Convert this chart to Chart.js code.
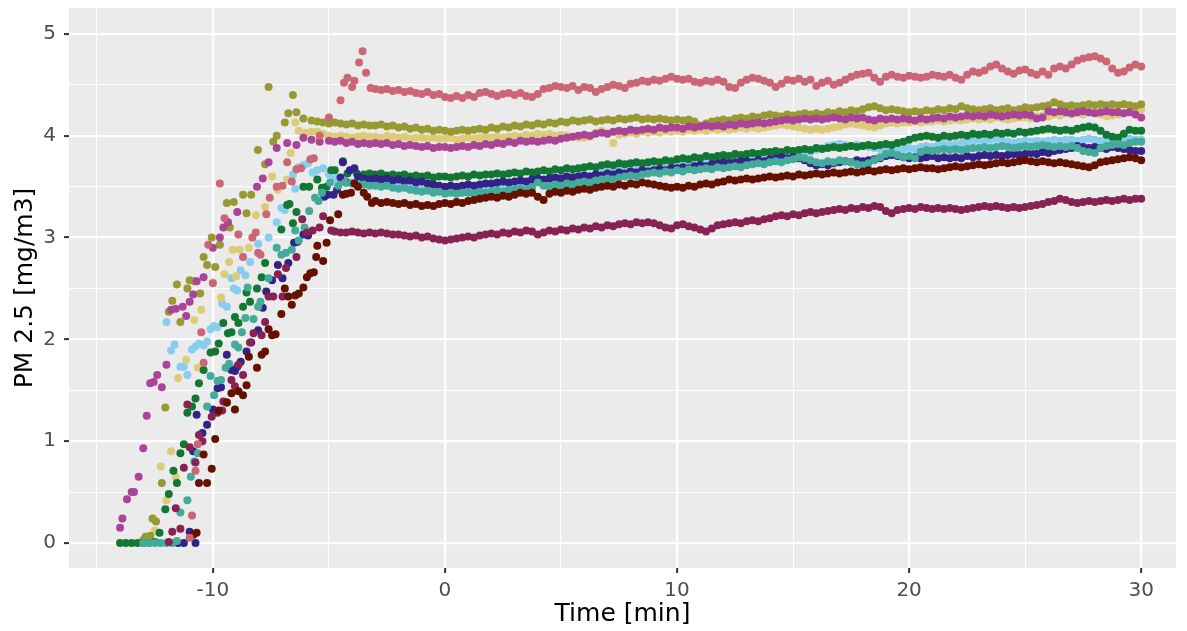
<!DOCTYPE html>
<html>
<head>
<meta charset="utf-8">
<title>PM 2.5</title>
<script src="https://cdn.jsdelivr.net/npm/chart.js@4.4.0/dist/chart.umd.min.js"></script>
<style>
  html, body { margin: 0; padding: 0; background: #fff; }
  #wrap { width: 1187px; height: 631px; }
</style>
</head>
<body>
<div id="wrap"><canvas id="pmChart" width="1187" height="631"></canvas></div>
<script>
// axis breaks
const xTicks = [-15, -10, -5, 0, 5, 10, 15, 20, 25, 30];
const xLabels = [-10, 0, 10, 20, 30];
const yTicks = [0, 0.5, 1, 1.5, 2, 2.5, 3, 3.5, 4, 4.5, 5];
const yLabels = [0, 1, 2, 3, 4, 5];

// steady part of each run is logged every 15 s from t = -3 min
const levelStart = -3;
const levelStep = 0.25;

// start-up readings [time, value] for each run
const roseRamp = [[-11.0,0.05],[-10.9,0.27],[-10.75,0.71],[-10.65,0.97],[-10.5,2.07],[-10.4,1.77],[-10.2,2.93],[-10.0,2.55],[-9.7,3.53],[-9.5,3.19],[-8.9,3.03],[-8.7,2.81],[-8.3,3.0],[-8.15,3.05],[-8.05,2.85],[-7.95,2.83],[-7.7,3.23],[-7.55,3.39],[-7.25,3.5],[-7.0,3.51],[-6.8,3.74],[-6.6,3.55],[-6.4,3.67],[-6.2,3.68],[-5.8,3.77],[-5.65,3.78],[-5.4,4.0],[-5.0,4.18],[-4.5,4.35],[-4.35,4.52],[-4.2,4.57],[-4.0,4.48],[-3.9,4.54],[-3.7,4.72],[-3.55,4.83],[-3.4,4.62],[-3.2,4.47]];
const oliveRamp = [[-13.0,0.03],[-12.9,0.06],[-12.7,0.07],[-12.6,0.24],[-12.45,0.21],[-12.2,0.59],[-12.05,1.33],[-11.9,2.27],[-11.75,2.38],[-11.55,2.54],[-11.4,2.17],[-11.1,2.5],[-11.0,2.58],[-10.8,2.57],[-10.55,2.45],[-10.4,2.81],[-10.25,2.73],[-10.05,3.0],[-9.9,2.71],[-9.7,2.93],[-9.4,3.34],[-9.27,3.1],[-9.1,3.35],[-8.7,3.42],[-8.55,3.24],[-8.35,3.42],[-8.06,3.86],[-7.75,3.72],[-7.6,4.48],[-7.4,3.94],[-7.25,4.0],[-6.9,4.13],[-6.75,4.22],[-6.55,4.4],[-6.4,4.23],[-6.1,4.17],[-5.75,4.15],[-5.5,4.14],[-5.25,4.13],[-5.0,4.12],[-4.75,4.13],[-4.5,4.12],[-4.25,4.11],[-4.0,4.12],[-3.75,4.1],[-3.5,4.11],[-3.25,4.1]];
const sandRamp = [[-12.5,0.12],[-12.25,0.75],[-12.0,0.42],[-11.8,0.9],[-11.6,0.65],[-11.5,1.62],[-11.15,1.8],[-10.8,2.19],[-10.65,1.72],[-10.5,2.29],[-10.0,2.56],[-9.65,2.41],[-9.5,2.64],[-9.3,2.76],[-9.15,2.88],[-9.0,2.62],[-8.85,2.88],[-8.45,2.9],[-8.15,3.22],[-7.75,3.3],[-7.45,3.6],[-7.2,3.47],[-6.8,3.57],[-6.65,3.83],[-6.45,4.13],[-6.3,4.05],[-6.0,4.03],[-5.75,4.04],[-5.5,4.04],[-5.25,4.02],[-5.0,4.0],[-4.75,3.99],[-4.5,4.0],[-4.25,3.99],[-4.0,3.98],[-3.75,3.99],[-3.5,4.0],[-3.25,3.99]];
const magentaRamp = [[-14.0,0.15],[-13.9,0.24],[-13.7,0.43],[-13.5,0.5],[-13.4,0.5],[-13.2,0.65],[-13.0,0.93],[-12.85,1.25],[-12.7,1.57],[-12.55,1.58],[-12.4,1.65],[-12.2,1.53],[-12.0,1.75],[-11.8,2.29],[-11.6,2.3],[-11.3,2.32],[-11.15,2.23],[-11.0,2.37],[-10.85,2.44],[-10.7,2.57],[-10.4,2.61],[-10.0,2.9],[-9.7,3.0],[-9.55,3.1],[-9.35,3.15],[-8.95,3.25],[-8.1,3.5],[-7.85,3.58],[-7.6,3.74],[-7.25,3.88],[-6.8,3.93],[-6.4,3.91],[-6.1,3.98],[-5.75,3.96],[-5.4,3.94],[-5.0,3.95],[-4.75,3.94],[-4.5,3.95],[-4.25,3.93],[-4.0,3.94],[-3.75,3.92],[-3.5,3.93],[-3.25,3.92]];
const greenRamp = [[-14.0,0],[-13.75,0],[-13.5,0],[-13.25,0],[-13.0,0],[-12.75,0],[-12.5,0.01],[-12.3,0.1],[-12.05,0.33],[-11.9,0.48],[-11.7,0.71],[-11.55,0.59],[-11.4,0.88],[-11.25,0.97],[-11.1,1.28],[-10.9,1.34],[-10.75,1.42],[-10.6,1.57],[-10.4,1.7],[-10.1,1.87],[-9.9,1.88],[-9.75,1.96],[-9.55,2.16],[-9.35,2.06],[-9.2,2.07],[-9.05,2.22],[-8.9,2.16],[-8.7,2.32],[-8.55,2.46],[-8.4,2.37],[-8.1,2.5],[-7.9,2.61],[-7.75,2.75],[-7.05,3.08],[-6.8,3.32],[-6.7,3.33],[-6.55,3.14],[-6.4,3.25],[-6.1,3.5],[-5.85,3.5],[-5.5,3.57],[-5.3,3.49],[-5.1,3.5],[-4.9,3.66],[-4.75,3.66],[-4.4,3.75],[-4.2,3.63],[-3.8,3.63],[-3.5,3.62],[-3.25,3.63]];
const indigoRamp = [[-11.5,0],[-11.25,0],[-11.0,0.11],[-10.85,0.9],[-10.75,0.0],[-10.7,1.26],[-10.45,1.08],[-10.25,1.16],[-10.0,1.31],[-9.8,1.52],[-9.65,1.53],[-9.4,1.85],[-9.2,1.7],[-9.05,1.69],[-8.95,1.73],[-8.8,1.78],[-8.55,1.88],[-8.35,1.97],[-8.05,2.09],[-7.85,2.31],[-7.7,2.47],[-7.45,2.58],[-7.2,2.73],[-7.0,2.6],[-6.75,2.75],[-6.5,2.95],[-6.35,2.96],[-6.1,3.03],[-5.9,3.02],[-5.2,3.4],[-5.05,3.42],[-4.8,3.42],[-4.65,3.47],[-4.5,3.59],[-4.4,3.74],[-4.25,3.54],[-4.1,3.66],[-3.9,3.68],[-3.75,3.6],[-3.5,3.58],[-3.25,3.57]];
const tealRamp = [[-13.0,0],[-12.75,0],[-12.5,0],[-12.25,0],[-12.0,0],[-11.75,0],[-11.55,0.02],[-11.4,0.3],[-11.1,0.42],[-10.95,0.65],[-10.8,0.8],[-10.65,0.88],[-10.25,1.34],[-10.1,1.64],[-9.95,1.45],[-9.8,1.59],[-9.65,1.6],[-9.45,1.72],[-9.3,1.76],[-9.05,1.95],[-8.9,1.92],[-8.75,2.07],[-8.6,2.21],[-8.5,2.51],[-8.25,2.2],[-8.05,2.32],[-7.95,2.37],[-7.6,2.6],[-7.25,2.9],[-7.05,2.83],[-6.85,2.85],[-6.6,2.88],[-6.45,3.07],[-6.3,2.97],[-6.05,3.1],[-5.85,3.26],[-5.6,3.39],[-5.45,3.36],[-5.3,3.44],[-4.95,3.54],[-4.6,3.51],[-4.3,3.54],[-4.0,3.53],[-3.75,3.52],[-3.5,3.52],[-3.25,3.51]];
const cyanRamp = [[-12.0,2.17],[-11.8,1.89],[-11.65,1.95],[-11.4,1.73],[-11.25,1.73],[-11.1,1.65],[-10.9,1.9],[-10.75,1.93],[-10.6,1.96],[-10.4,1.94],[-10.25,1.98],[-10.1,2.1],[-9.95,2.13],[-9.8,2.12],[-9.6,2.35],[-9.4,2.32],[-9.2,2.6],[-9.1,2.5],[-8.95,2.48],[-8.8,2.68],[-8.6,2.63],[-8.4,2.76],[-8.05,2.94],[-7.6,3.0],[-7.25,3.15],[-7.05,3.29],[-6.9,3.27],[-6.55,3.62],[-6.45,3.48],[-6.3,3.69],[-6.1,3.71],[-5.9,3.73],[-5.7,3.64],[-5.5,3.66],[-5.25,3.68],[-5.0,3.62],[-4.75,3.58],[-4.5,3.56],[-4.25,3.55],[-4.0,3.54],[-3.75,3.53],[-3.5,3.54],[-3.25,3.52]];
const wineRamp = [[-11.9,0.01],[-11.75,0.11],[-11.6,0.34],[-11.4,0.14],[-11.25,0.74],[-11.1,1.36],[-11.0,0.94],[-10.75,0.79],[-10.6,1.06],[-10.45,1.0],[-10.05,1.24],[-9.8,1.28],[-9.6,1.3],[-9.55,1.39],[-9.4,1.38],[-9.2,1.6],[-9.05,1.54],[-8.9,1.75],[-8.7,1.65],[-8.4,1.97],[-8.25,2.06],[-7.9,2.04],[-7.75,2.17],[-7.6,2.42],[-7.4,2.42],[-7.2,2.64],[-7.0,2.42],[-6.85,2.7],[-6.4,2.81],[-6.15,3.18],[-5.95,3.05],[-5.7,3.07],[-5.4,3.1],[-5.25,3.21],[-4.9,3.07],[-4.75,3.06],[-4.5,3.05],[-4.25,3.05],[-4.0,3.06],[-3.75,3.05],[-3.5,3.04],[-3.25,3.05]];
const darkredRamp = [[-10.85,0.08],[-10.7,0.1],[-10.6,0.59],[-10.4,0.87],[-10.25,0.59],[-10.05,0.73],[-9.9,1.02],[-9.75,1.3],[-9.4,1.38],[-9.2,1.47],[-9.05,1.31],[-8.9,1.49],[-8.7,1.45],[-8.55,1.55],[-8.45,1.83],[-8.1,1.72],[-7.9,1.85],[-7.75,1.88],[-7.6,2.1],[-7.45,2.04],[-7.3,2.05],[-7.05,2.25],[-6.9,2.5],[-6.75,2.42],[-6.6,2.34],[-6.45,2.43],[-6.3,2.45],[-6.1,2.51],[-5.95,2.61],[-5.8,2.65],[-5.65,2.66],[-5.55,2.81],[-5.5,2.92],[-5.25,2.77],[-5.1,2.95],[-4.95,3.17],[-4.6,3.23],[-4.4,3.42],[-4.25,3.43],[-4.05,3.44],[-3.9,3.53],[-3.75,3.5],[-3.5,3.44],[-3.35,3.4],[-3.15,3.34]];

// steady readings, -3 .. 30 min
const roseLevel = [
  4.46,4.45,4.46,4.44, 4.45,4.43,4.44,4.42,
  4.41,4.43,4.40,4.41, 4.38,4.37,4.39,4.37,
  4.40,4.38,4.42,4.43, 4.41,4.39,4.41,4.42,
  4.40,4.42,4.39,4.38, 4.41,4.46,4.47,4.49,
  4.48,4.47,4.49,4.45, 4.48,4.47,4.43,4.46,
  4.48,4.50,4.49,4.47, 4.51,4.52,4.54,4.53,
  4.55,4.54,4.56,4.58, 4.56,4.55,4.56,4.53,
  4.52,4.54,4.53,4.55, 4.53,4.48,4.47,4.52,
  4.55,4.57,4.56,4.54, 4.52,4.48,4.51,4.55,
  4.54,4.56,4.53,4.55, 4.49,4.52,4.54,4.50,
  4.52,4.55,4.58,4.60, 4.61,4.62,4.57,4.53,
  4.58,4.60,4.58,4.57, 4.59,4.58,4.57,4.58,
  4.60,4.59,4.58,4.60, 4.57,4.55,4.60,4.63,
  4.62,4.64,4.68,4.70, 4.66,4.63,4.61,4.64,
  4.65,4.62,4.60,4.63, 4.60,4.66,4.68,4.66,
  4.70,4.74,4.76,4.77, 4.78,4.76,4.73,4.66,
  4.62,4.63,4.67,4.70, 4.68
];
const oliveLevel = [
  4.10,4.11,4.09,4.10, 4.08,4.09,4.07,4.08,
  4.06,4.07,4.05,4.06, 4.05,4.04,4.05,4.06,
  4.05,4.06,4.07,4.06, 4.08,4.07,4.09,4.08,
  4.10,4.09,4.11,4.10, 4.12,4.11,4.13,4.12,
  4.14,4.13,4.15,4.14, 4.15,4.16,4.14,4.15,
  4.16,4.15,4.17,4.16, 4.17,4.18,4.16,4.17,
  4.16,4.17,4.16,4.15, 4.16,4.15,4.16,4.14,
  4.10,4.12,4.14,4.15, 4.16,4.15,4.17,4.18,
  4.17,4.19,4.18,4.20, 4.21,4.20,4.19,4.21,
  4.20,4.21,4.22,4.21, 4.22,4.21,4.23,4.22,
  4.24,4.23,4.25,4.24, 4.26,4.28,4.29,4.27,
  4.25,4.26,4.25,4.24, 4.23,4.24,4.23,4.25,
  4.24,4.26,4.25,4.27, 4.26,4.29,4.27,4.26,
  4.25,4.26,4.27,4.25, 4.26,4.27,4.25,4.26,
  4.28,4.27,4.28,4.29, 4.30,4.33,4.31,4.29,
  4.30,4.29,4.30,4.31, 4.30,4.31,4.30,4.31,
  4.30,4.31,4.30,4.29, 4.31
];
const sandLevel = [
  3.99,3.98,4.00,3.99, 3.98,3.99,3.97,3.98,
  3.98,3.97,3.98,3.97, 3.97,3.98,3.96,3.97,
  3.98,3.97,3.98,3.99, 3.98,3.99,3.98,3.99,
  4.00,3.99,4.01,4.00, 4.02,4.01,4.02,4.00,
  4.01,4.00,3.99,3.98, 3.98,3.99,4.03,4.05,
  4.02,3.93,4.01,4.02, 4.03,4.02,4.04,4.03,
  4.04,4.03,4.05,4.04, 4.05,4.04,4.06,4.05,
  4.06,4.05,4.07,4.06, 4.07,4.06,4.07,4.08,
  4.07,4.08,4.07,4.08, 4.09,4.10,4.11,4.10,
  4.09,4.08,4.07,4.06, 4.07,4.06,4.07,4.08,
  4.09,4.11,4.12,4.11, 4.10,4.09,4.08,4.10,
  4.12,4.13,4.12,4.13, 4.13,4.14,4.13,4.14,
  4.14,4.15,4.14,4.15, 4.16,4.15,4.16,4.17,
  4.16,4.17,4.16,4.18, 4.17,4.16,4.17,4.18,
  4.18,4.17,4.19,4.20, 4.19,4.21,4.20,4.22,
  4.21,4.22,4.21,4.23, 4.22,4.21,4.19,4.20,
  4.21,4.22,4.24,4.25, 4.26
];
const magentaLevel = [
  3.93,3.92,3.93,3.91, 3.92,3.90,3.91,3.90,
  3.89,3.90,3.88,3.89, 3.89,3.88,3.89,3.90,
  3.89,3.91,3.90,3.92, 3.91,3.93,3.92,3.94,
  3.93,3.95,3.94,3.95, 3.94,3.95,3.96,3.95,
  3.97,3.98,3.99,4.00, 4.01,4.00,4.02,4.03,
  4.02,4.04,4.05,4.04, 4.06,4.05,4.06,4.07,
  4.06,4.08,4.07,4.08, 4.08,4.07,4.09,4.08,
  4.09,4.10,4.09,4.10, 4.09,4.11,4.10,4.12,
  4.11,4.12,4.13,4.12, 4.13,4.14,4.15,4.16,
  4.15,4.16,4.17,4.16, 4.17,4.16,4.17,4.18,
  4.17,4.16,4.18,4.17, 4.18,4.16,4.15,4.17,
  4.16,4.17,4.16,4.17, 4.16,4.15,4.17,4.16,
  4.17,4.18,4.17,4.19, 4.18,4.19,4.20,4.19,
  4.20,4.19,4.21,4.20, 4.19,4.20,4.21,4.20,
  4.21,4.20,4.17,4.18, 4.24,4.23,4.24,4.23,
  4.22,4.23,4.24,4.23, 4.22,4.23,4.24,4.23,
  4.23,4.22,4.23,4.21, 4.18
];
const greenLevel = [
  3.62,3.63,3.61,3.62, 3.61,3.62,3.60,3.61,
  3.60,3.61,3.59,3.60, 3.60,3.59,3.60,3.61,
  3.60,3.62,3.61,3.62, 3.62,3.63,3.62,3.63,
  3.64,3.63,3.65,3.64, 3.65,3.66,3.65,3.67,
  3.66,3.68,3.67,3.68, 3.69,3.70,3.69,3.71,
  3.72,3.71,3.73,3.72, 3.73,3.74,3.73,3.74,
  3.75,3.74,3.76,3.75, 3.77,3.78,3.77,3.79,
  3.78,3.80,3.79,3.80, 3.81,3.80,3.82,3.81,
  3.82,3.83,3.82,3.84, 3.84,3.85,3.84,3.86,
  3.85,3.86,3.87,3.86, 3.88,3.87,3.88,3.89,
  3.88,3.89,3.90,3.89, 3.90,3.91,3.90,3.91,
  3.92,3.91,3.93,3.94, 3.96,3.98,3.99,4.00,
  3.99,3.98,4.00,3.99, 4.00,4.01,4.00,4.02,
  4.01,4.02,4.01,4.03, 4.02,4.03,4.02,4.04,
  4.03,4.04,4.05,4.06, 4.07,4.06,4.05,4.06,
  4.05,4.07,4.08,4.09, 4.08,4.05,4.01,3.99,
  3.98,4.02,4.06,4.05, 4.05
];
const indigoLevel = [
  3.58,3.57,3.58,3.56, 3.57,3.55,3.56,3.54,
  3.55,3.53,3.52,3.51, 3.50,3.51,3.50,3.51,
  3.52,3.51,3.52,3.53, 3.53,3.54,3.55,3.54,
  3.55,3.56,3.55,3.57, 3.58,3.57,3.58,3.59,
  3.58,3.60,3.59,3.60, 3.61,3.60,3.62,3.61,
  3.63,3.62,3.64,3.63, 3.65,3.64,3.66,3.65,
  3.66,3.67,3.66,3.68, 3.68,3.69,3.68,3.70,
  3.71,3.70,3.72,3.73, 3.74,3.73,3.74,3.75,
  3.75,3.74,3.76,3.75, 3.77,3.78,3.79,3.78,
  3.79,3.78,3.76,3.73, 3.71,3.72,3.71,3.73,
  3.74,3.75,3.74,3.76, 3.75,3.76,3.77,3.78,
  3.80,3.81,3.80,3.79, 3.78,3.79,3.78,3.79,
  3.80,3.78,3.79,3.78, 3.79,3.78,3.80,3.79,
  3.80,3.81,3.80,3.81, 3.80,3.81,3.82,3.81,
  3.82,3.83,3.82,3.84, 3.83,3.85,3.86,3.87,
  3.88,3.90,3.89,3.88, 3.89,3.88,3.87,3.89,
  3.88,3.87,3.86,3.85, 3.85
];
const tealLevel = [
  3.51,3.50,3.51,3.49, 3.48,3.49,3.47,3.46,
  3.45,3.46,3.44,3.45, 3.43,3.44,3.43,3.44,
  3.44,3.43,3.45,3.44, 3.45,3.46,3.45,3.47,
  3.47,3.48,3.47,3.49, 3.54,3.51,3.50,3.52,
  3.51,3.53,3.52,3.54, 3.55,3.54,3.56,3.57,
  3.58,3.57,3.59,3.60, 3.61,3.60,3.62,3.63,
  3.64,3.63,3.65,3.64, 3.66,3.65,3.67,3.66,
  3.67,3.68,3.67,3.69, 3.68,3.69,3.70,3.69,
  3.71,3.72,3.73,3.72, 3.74,3.75,3.74,3.76,
  3.77,3.79,3.78,3.76, 3.74,3.73,3.75,3.74,
  3.76,3.75,3.74,3.72, 3.71,3.73,3.76,3.79,
  3.82,3.83,3.81,3.79, 3.80,3.78,3.84,3.86,
  3.85,3.86,3.87,3.86, 3.87,3.86,3.87,3.88,
  3.88,3.89,3.88,3.89, 3.90,3.89,3.88,3.89,
  3.90,3.89,3.90,3.91, 3.90,3.89,3.90,3.89,
  3.90,3.88,3.85,3.84, 3.83,3.88,3.90,3.91,
  3.92,3.91,3.93,3.94, 3.94
];
const cyanLevel = [
  3.53,3.52,3.53,3.51, 3.52,3.50,3.51,3.50,
  3.49,3.50,3.48,3.49, 3.47,3.48,3.47,3.48,
  3.48,3.49,3.48,3.50, 3.50,3.51,3.52,3.51,
  3.53,3.54,3.53,3.55, 3.56,3.55,3.57,3.58,
  3.59,3.58,3.60,3.61, 3.62,3.61,3.63,3.64,
  3.65,3.64,3.66,3.67, 3.68,3.67,3.69,3.68,
  3.69,3.70,3.69,3.71, 3.72,3.71,3.73,3.72,
  3.73,3.74,3.75,3.74, 3.76,3.75,3.77,3.76,
  3.78,3.77,3.79,3.78, 3.80,3.79,3.81,3.80,
  3.82,3.81,3.83,3.84, 3.86,3.88,3.90,3.91,
  3.92,3.91,3.90,3.91, 3.90,3.89,3.88,3.87,
  3.86,3.87,3.88,3.87, 3.88,3.87,3.89,3.90,
  3.89,3.91,3.92,3.91, 3.92,3.93,3.94,3.95,
  3.96,3.95,3.96,3.97, 3.95,3.94,3.93,3.94,
  3.95,3.94,3.95,3.94, 3.95,3.96,3.95,3.96,
  3.96,3.95,3.96,3.97, 3.96,3.95,3.96,3.97,
  3.96,3.95,3.97,3.96, 3.96
];
const wineLevel = [
  3.04,3.05,3.04,3.03, 3.03,3.02,3.01,3.02,
  3.00,3.01,2.99,2.98, 2.97,2.98,2.99,3.00,
  3.01,3.00,3.02,3.03, 3.04,3.03,3.05,3.04,
  3.06,3.05,3.07,3.06, 3.03,3.05,3.07,3.06,
  3.08,3.07,3.09,3.08, 3.10,3.09,3.11,3.10,
  3.12,3.11,3.13,3.14, 3.13,3.15,3.14,3.15,
  3.14,3.12,3.10,3.09, 3.12,3.13,3.11,3.10,
  3.08,3.06,3.09,3.12, 3.13,3.14,3.15,3.14,
  3.16,3.17,3.16,3.18, 3.19,3.21,3.22,3.21,
  3.23,3.22,3.24,3.25, 3.24,3.25,3.26,3.27,
  3.28,3.27,3.29,3.28, 3.30,3.29,3.31,3.30,
  3.26,3.24,3.27,3.28, 3.29,3.28,3.30,3.29,
  3.28,3.29,3.28,3.29, 3.28,3.27,3.28,3.29,
  3.30,3.31,3.30,3.31, 3.30,3.29,3.30,3.29,
  3.30,3.31,3.32,3.33, 3.35,3.36,3.38,3.37,
  3.35,3.34,3.35,3.36, 3.35,3.36,3.37,3.36,
  3.37,3.38,3.37,3.38, 3.38
];
const darkredLevel = [
  3.36,3.34,3.35,3.34, 3.33,3.34,3.32,3.33,
  3.31,3.32,3.31,3.33, 3.34,3.33,3.35,3.34,
  3.36,3.37,3.38,3.39, 3.40,3.39,3.41,3.40,
  3.42,3.44,3.43,3.44, 3.40,3.37,3.43,3.45,
  3.44,3.46,3.45,3.47, 3.48,3.47,3.49,3.50,
  3.51,3.50,3.52,3.51, 3.53,3.52,3.54,3.53,
  3.52,3.51,3.50,3.49, 3.50,3.49,3.51,3.50,
  3.52,3.53,3.52,3.54, 3.55,3.57,3.56,3.57,
  3.58,3.57,3.58,3.59, 3.60,3.59,3.60,3.61,
  3.60,3.62,3.61,3.62, 3.63,3.62,3.63,3.64,
  3.63,3.64,3.65,3.64, 3.65,3.66,3.65,3.66,
  3.67,3.66,3.67,3.68, 3.67,3.68,3.69,3.68,
  3.68,3.67,3.68,3.69, 3.70,3.69,3.70,3.71,
  3.72,3.71,3.72,3.73, 3.74,3.73,3.74,3.75,
  3.76,3.75,3.74,3.75, 3.74,3.73,3.74,3.73,
  3.72,3.71,3.70,3.69, 3.71,3.74,3.75,3.76,
  3.77,3.78,3.79,3.78, 3.76
];

function toPoints(ramp, level) {
  const pts = ramp.map(([x, y]) => ({ x, y }));
  level.forEach((y, i) => pts.push({ x: levelStart + i * levelStep, y }));
  return pts;
}

// first entry is drawn on top
const runs = [
  { data: toPoints(roseRamp, roseLevel), color: '#CC6677' },
  { data: toPoints(darkredRamp, darkredLevel), color: '#661100' },
  { data: toPoints(wineRamp, wineLevel), color: '#882255' },
  { data: toPoints(tealRamp, tealLevel), color: '#44AA99' },
  { data: toPoints(indigoRamp, indigoLevel), color: '#332288' },
  { data: toPoints(greenRamp, greenLevel), color: '#117733' },
  { data: toPoints(magentaRamp, magentaLevel), color: '#AA4499' },
  { data: toPoints(oliveRamp, oliveLevel), color: '#999933' },
  { data: toPoints(sandRamp, sandLevel), color: '#DDCC77' },
  { data: toPoints(cyanRamp, cyanLevel), color: '#88CCEE' }
];

const panelBg = {
  id: 'panelBg',
  beforeDraw(chart) {
    const { ctx, chartArea: a } = chart;
    ctx.save();
    ctx.fillStyle = '#EBEBEB';
    ctx.fillRect(a.left, a.top, a.right - a.left, a.bottom - a.top);
    ctx.restore();
  }
};

Chart.defaults.font.family = "'DejaVu Sans', sans-serif";

const isMajor = (list, v) => list.some(m => Math.abs(m - v) < 1e-9);

function gridFor(major) {
  return {
    color: '#FFFFFF',
    lineWidth: c => (c.tick && isMajor(major, c.tick.value) ? 2.2 : 1.1),
    drawTicks: true,
    tickLength: 5,
    tickWidth: c => (c.tick && isMajor(major, c.tick.value) ? 2 : 0),
    tickColor: c => (c.tick && isMajor(major, c.tick.value) ? '#333333' : 'rgba(0,0,0,0)')
  };
}

// keep the panel edges where the layout puts them, labels may overhang
function noOverhang(s) {
  s.paddingTop = 0;
  s.paddingBottom = 0;
  s.paddingLeft = 0;
  s.paddingRight = 0;
}

new Chart(document.getElementById('pmChart').getContext('2d'), {
  type: 'scatter',
  data: {
    datasets: runs.map(r => ({
      data: r.data,
      backgroundColor: r.color,
      borderWidth: 0,
      pointRadius: 4,
      pointHoverRadius: 4
    }))
  },
  options: {
    responsive: false,
    animation: false,
    events: [],
    layout: { padding: { left: 0, top: 8, right: 11, bottom: 0 } },
    plugins: { legend: { display: false }, tooltip: { enabled: false } },
    scales: {
      x: {
        type: 'linear',
        min: -16.2,
        max: 31.5,
        border: { display: false },
        grid: gridFor(xLabels),
        afterBuildTicks: s => { s.ticks = xTicks.map(v => ({ value: v })); },
        afterFit: s => { s.height = 63; noOverhang(s); },
        ticks: {
          autoSkip: false,
          maxRotation: 0,
          padding: 6,
          color: '#4D4D4D',
          font: { size: 20 },
          callback: v => (isMajor(xLabels, v) ? String(v) : '')
        },
        title: {
          display: true,
          text: 'Time [min]',
          color: '#000000',
          font: { size: 25 },
          padding: { top: 0, bottom: 2 }
        }
      },
      y: {
        type: 'linear',
        min: -0.246,
        max: 5.255,
        border: { display: false },
        grid: gridFor(yLabels),
        afterBuildTicks: s => { s.ticks = yTicks.map(v => ({ value: v })); },
        afterFit: s => { s.width = 69; noOverhang(s); },
        ticks: {
          autoSkip: false,
          padding: 8,
          color: '#4D4D4D',
          font: { size: 20 },
          callback: v => (isMajor(yLabels, v) ? String(v) : '')
        },
        title: {
          display: true,
          text: 'PM 2.5 [mg/m3]',
          color: '#000000',
          font: { size: 25 },
          padding: { top: 10, bottom: 0 }
        }
      }
    }
  },
  plugins: [panelBg]
});
</script>
</body>
</html>
